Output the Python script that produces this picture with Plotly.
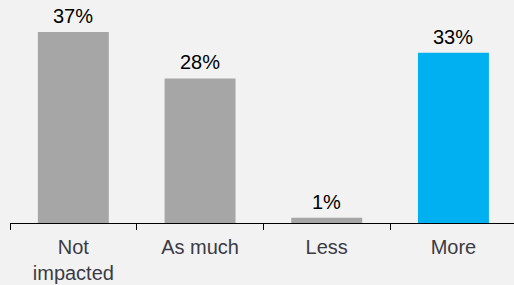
import plotly.graph_objects as go

categories = ["Not<br>impacted", "As much", "Less", "More"]
values = [37, 28, 1, 33]
labels = ["37%", "28%", "1%", "33%"]
colors = ["#a6a6a6", "#a6a6a6", "#a6a6a6", "#00b0f0"]

fig = go.Figure()
fig.add_trace(go.Bar(
    x=categories, y=values, marker=dict(color=colors, line=dict(width=0)),
    width=0.56, cliponaxis=False, hoverinfo="skip",
))

for c, v, t in zip(categories, values, labels):
    fig.add_annotation(
        x=c, y=v, text=t, showarrow=False, yanchor="bottom", yshift=3,
        font=dict(family="Liberation Sans, Arial", size=20, color="#000000"),
    )

fig.update_layout(
    width=514, height=285,
    margin=dict(l=10, r=0, t=0, b=62),
    paper_bgcolor="#f2f2f2", plot_bgcolor="#f2f2f2",
    showlegend=False,
    xaxis=dict(
        range=[-0.5, 3.478], showgrid=False, zeroline=False,
        showline=True, linecolor="#000000", linewidth=1.3,
        ticks="outside", tickson="boundaries", ticklen=6, tickcolor="#000000", tickwidth=1.3,
        tickfont=dict(family="Liberation Sans, Arial", size=20, color="#3b3b44"),
        ticklabelstandoff=6,
        fixedrange=True,
    ),
    yaxis=dict(range=[0, 43.2], visible=False, fixedrange=True),
)

fig.write_html("out.html", config={"displayModeBar": False},
               post_script="document.body.style.margin='0px';document.body.style.overflow='hidden';")
